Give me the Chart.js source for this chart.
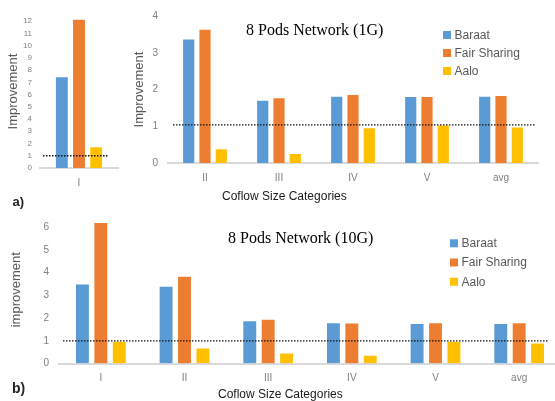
<!DOCTYPE html>
<html>
<head>
<meta charset="utf-8">
<script src="https://cdn.jsdelivr.net/npm/chart.js@4/dist/chart.umd.min.js"></script>
<style>
  html, body { margin: 0; padding: 0; background: #fff; overflow: hidden; }
  body { width: 555px; height: 401px; position: relative; }
  canvas { position: absolute; }
</style>
</head>
<body>
<canvas id="c1" width="120" height="212" style="left:0;top:0"></canvas>
<canvas id="c2" width="435" height="205" style="left:120px;top:0"></canvas>
<canvas id="c3" width="562" height="201" style="left:0;top:200px"></canvas>
<script>
// series
const seriesNames = ['Baraat', 'Fair Sharing', 'Aalo'];
const seriesColors = ['#5B9BD5', '#ED7D31', '#FFC000'];

// a) 1G, category I (own axis)
const catsA1 = ['I'];
const baraatA1 = [7.5];
const fairA1 = [12.2];
const aaloA1 = [1.78];

// a) 1G, other categories
const catsA2 = ['II', 'III', 'IV', 'V', 'avg'];
const baraatA2 = [3.39, 1.72, 1.83, 1.82, 1.83];
const fairA2 = [3.65, 1.79, 1.88, 1.82, 1.85];
const aaloA2 = [0.40, 0.27, 0.97, 1.05, 0.99];

// b) 10G
const catsB = ['I', 'II', 'III', 'IV', 'V', 'avg'];
const baraatB = [3.52, 3.43, 1.91, 1.82, 1.78, 1.79];
const fairB = [6.24, 3.87, 1.97, 1.81, 1.82, 1.82];
const aaloB = [1.0, 0.71, 0.48, 0.39, 1.0, 0.93];

// y axis ranges and the dotted "1" reference
const yMax = [12.5, 4, 6.5];
const refLevel = [1, 1.04, 1];

Chart.defaults.font.family = '"Liberation Sans", Arial, sans-serif';

const decor = {
  id: 'decor',
  afterDatasetsDraw(chart, args, o) {
    const ctx = chart.ctx, area = chart.chartArea;
    ctx.save();
    if (o.ref != null) {
      const py = chart.scales.y.getPixelForValue(o.ref);
      ctx.strokeStyle = '#111';
      ctx.lineWidth = 1.3;
      ctx.setLineDash([1.5, 1.5]);
      ctx.beginPath();
      ctx.moveTo(area.left + o.refInset[0], py);
      ctx.lineTo(area.right - o.refInset[1], py);
      ctx.stroke();
      ctx.setLineDash([]);
    }
    if (o.title) {
      ctx.font = '16px "Liberation Serif", "Times New Roman", serif';
      ctx.fillStyle = '#000';
      ctx.textBaseline = 'alphabetic';
      ctx.textAlign = 'left';
      ctx.fillText(o.title, o.titleX, o.titleY);
    }
    if (o.legend) {
      ctx.font = '12px "Liberation Sans", Arial, sans-serif';
      ctx.textBaseline = 'middle';
      ctx.textAlign = 'left';
      chart.data.datasets.forEach((ds, i) => {
        const cy = o.legend.y + i * o.legend.step;
        ctx.fillStyle = ds.backgroundColor;
        ctx.fillRect(o.legend.x, cy - 4, 8, 8);
        ctx.fillStyle = '#595959';
        ctx.fillText(ds.label, o.legend.x + 11.5, cy + 0.5);
      });
    }
    (o.texts || []).forEach(t => {
      ctx.font = t.font;
      ctx.fillStyle = t.color || '#222';
      ctx.textBaseline = 'middle';
      ctx.textAlign = 'left';
      ctx.fillText(t.text, t.x, t.y);
    });
    ctx.restore();
  }
};

function makeDatasets(b, f, a) {
  return [b, f, a].map((vals, i) => ({
    label: seriesNames[i],
    data: vals,
    backgroundColor: seriesColors[i],
    borderColor: 'rgba(255,255,255,0.55)',
    borderWidth: 1,
    categoryPercentage: 0.66,
    barPercentage: 0.81
  }));
}

function makeChart(id, cats, datasets, cfg) {
  return new Chart(document.getElementById(id), {
    type: 'bar',
    data: { labels: cats, datasets: datasets },
    plugins: [decor],
    options: {
      responsive: false,
      animation: false,
      layout: { padding: cfg.padding },
      plugins: {
        legend: { display: false },
        tooltip: { enabled: false },
        decor: cfg.decor
      },
      scales: {
        x: {
          grid: { display: false, drawTicks: false },
          border: { display: true, color: '#d9d9d9', width: 2 },
          ticks: { color: '#7f7f7f', font: { size: 10 }, padding: cfg.xPad },
          afterFit: s => { s.height = cfg.xHeight; }
        },
        y: {
          min: 0,
          max: cfg.max,
          grid: { display: false, drawTicks: false },
          border: { display: false },
          ticks: { stepSize: 1, includeBounds: false, color: '#7f7f7f',
                   font: { size: cfg.yFont }, padding: cfg.yPad },
          title: { display: true, text: cfg.yTitle, color: '#595959',
                   font: { size: 13 }, padding: { top: cfg.titlePad, bottom: 0 } },
          afterFit: s => { s.width = cfg.yWidth; }
        }
      }
    }
  });
}

makeChart('c1', catsA1, makeDatasets(baraatA1, fairA1, aaloA1), {
  padding: { top: 15, right: 2, left: 0, bottom: 0 },
  max: yMax[0], yFont: 8, yPad: 8, yWidth: 40, xHeight: 44, xPad: 9,
  yTitle: 'Improvement', titlePad: 6,
  decor: {
    ref: refLevel[0], refInset: [3, 9],
    texts: [{ text: 'a)', x: 12.5, y: 202.5, font: 'bold 13px "Liberation Sans", Arial, sans-serif' }]
  }
});

makeChart('c2', catsA2, makeDatasets(baraatA2, fairA2, aaloA2), {
  padding: { top: 14, right: 17, left: 0, bottom: 0 },
  max: yMax[1], yFont: 10, yPad: 10, yWidth: 48, xHeight: 42, xPad: 9,
  yTitle: 'Improvement', titlePad: 12,
  decor: {
    ref: refLevel[1], refInset: [5, 2],
    title: '8 Pods Network (1G)', titleX: 126, titleY: 34.5,
    legend: { x: 323, y: 35, step: 18 },
    texts: [{ text: 'Coflow Size Categories', x: 102, y: 197, font: '12px "Liberation Sans", Arial, sans-serif', color: '#1a1a1a' }]
  }
});

makeChart('c3', catsB, makeDatasets(baraatB, fairB, aaloB), {
  padding: { top: 15, right: 1, left: 0, bottom: 0 },
  max: yMax[2], yFont: 10, yPad: 10, yWidth: 59, xHeight: 37.5, xPad: 9,
  yTitle: 'improvement', titlePad: 9,
  decor: {
    ref: refLevel[2], refInset: [4, 13],
    title: '8 Pods Network (10G)', titleX: 228, titleY: 43.3,
    legend: { x: 450, y: 43.3, step: 19.2 },
    texts: [
      { text: 'Coflow Size Categories', x: 218, y: 195, font: '12px "Liberation Sans", Arial, sans-serif', color: '#1a1a1a' },
      { text: 'b)', x: 12, y: 189, font: 'bold 14px "Liberation Sans", Arial, sans-serif' }
    ]
  }
});
</script>
</body>
</html>
